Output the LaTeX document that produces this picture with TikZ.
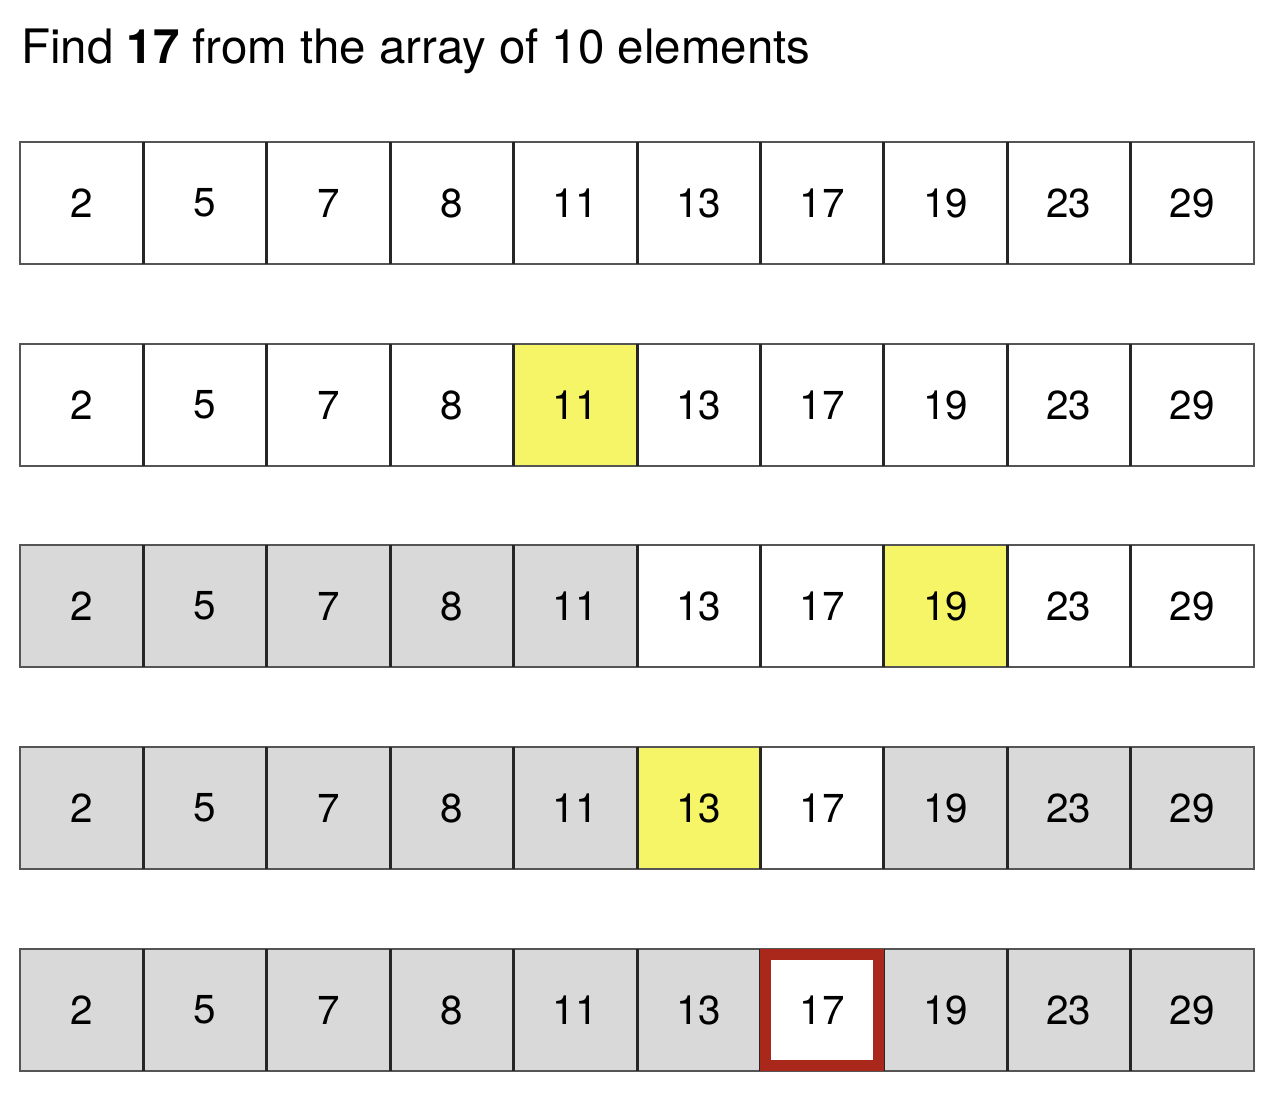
\documentclass[tikz,border=0pt]{standalone}
\usepackage{fontspec}
\setmainfont{TeX Gyre Heros}
\definecolor{seengray}{HTML}{D9D9D9}
\definecolor{midyellow}{HTML}{F6F567}
\definecolor{foundred}{HTML}{A9271B}
\definecolor{edgegray}{HTML}{555555}

\begin{document}
\begin{tikzpicture}[cell/.style={rectangle,draw=edgegray,line width=0.7pt,fill=white,minimum width=2.468cm,minimum height=2.44cm,inner sep=0pt,outer sep=0pt,anchor=north west,font=\fontsize{23}{27}\selectfont},
  seen/.style={cell,fill=seengray},
  mid/.style={cell,fill=midyellow},
  divider/.style={line width=1.7pt,black!85},
  found/.style={draw=foundred,line width=6.3pt}]
  \useasboundingbox (0,0) rectangle (25.6,-21.86);
  \node[anchor=base west,font=\fontsize{27}{32}\selectfont] (title) at (0.3,-1.27) {Find \textbf{17} from the array of 10 elements};
  % row 1: the whole array
  \foreach \v/\k [count=\i] in {2/cell,5/cell,7/cell,8/cell,11/cell,13/cell,17/cell,19/cell,23/cell,29/cell}
    \node[\k] (a\i) at ({0.4+(\i-1)*2.468},-2.84) {\v};
  % row 2: middle is 11
  \foreach \v/\k [count=\i] in {2/cell,5/cell,7/cell,8/cell,11/mid,13/cell,17/cell,19/cell,23/cell,29/cell}
    \node[\k] (b\i) at ({0.4+(\i-1)*2.468},-6.88) {\v};
  % row 3: middle is 19
  \foreach \v/\k [count=\i] in {2/seen,5/seen,7/seen,8/seen,11/seen,13/cell,17/cell,19/mid,23/cell,29/cell}
    \node[\k] (c\i) at ({0.4+(\i-1)*2.468},-10.90) {\v};
  % row 4: middle is 13
  \foreach \v/\k [count=\i] in {2/seen,5/seen,7/seen,8/seen,11/seen,13/mid,17/cell,19/seen,23/seen,29/seen}
    \node[\k] (d\i) at ({0.4+(\i-1)*2.468},-14.94) {\v};
  % row 5: found 17
  \foreach \v/\k [count=\i] in {2/seen,5/seen,7/seen,8/seen,11/seen,13/seen,17/cell,19/seen,23/seen,29/seen}
    \node[\k] (e\i) at ({0.4+(\i-1)*2.468},-18.98) {\v};
  % thick dividers between cells
  \foreach \r in {a,b,c,d,e}
    \foreach \i in {2,...,10}
      \draw[divider] (\r\i.north west) -- (\r\i.south west);
  \draw[found] ([xshift=3.15pt,yshift=-3.15pt]e7.north west) rectangle ([xshift=-3.15pt,yshift=3.15pt]e7.south east);
\end{tikzpicture}
\end{document}
